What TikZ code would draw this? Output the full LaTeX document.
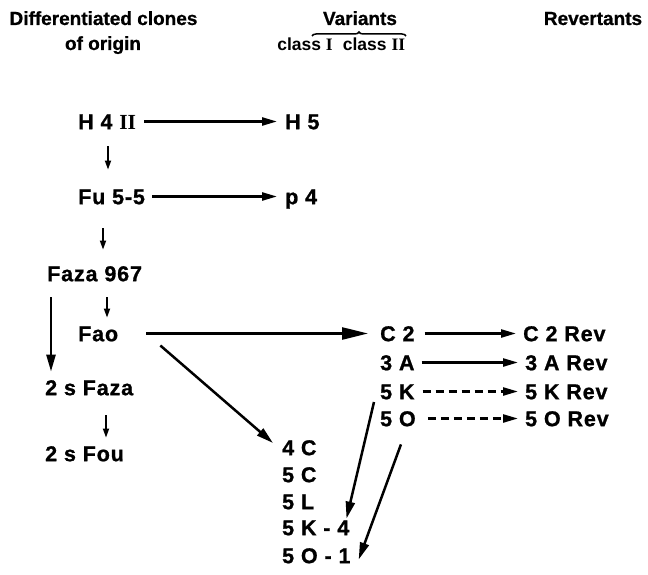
\documentclass[tikz,border=0pt]{standalone}
\usepackage{fontspec}
\setmainfont{Liberation Sans}
\newfontfamily\romfont{Liberation Serif}
\newcommand\RomN[1]{{\romfont\bfseries #1}}
\usetikzlibrary{arrows.meta,calc,decorations.pathreplacing}
\begin{document}
\begin{tikzpicture}[x=1pt,y=-1pt,
  lbl/.style={font=\fontsize{21.5}{24}\selectfont\bfseries\addfontfeatures{LetterSpace=4,FakeBold=1}, inner sep=0pt, text height=15.4pt, text depth=0pt, anchor=west},
  hdr/.style={font=\fontsize{19}{20}\selectfont\bfseries\addfontfeatures{FakeBold=0.8}, inner sep=0pt, anchor=base},
  arr/.style={line width=2.4pt, -{Triangle[length=15pt,width=8pt]}},
  darr/.style={arr, dash pattern=on 8pt off 5pt},
  smallarr/.style={line width=1.7pt, -{Triangle[length=9pt,width=6pt]}},
  bigarr/.style={line width=2.5pt, -{Triangle[length=17pt,width=9pt]}},
  hugearr/.style={line width=2.5pt, -{Triangle[length=26pt,width=12pt]}},
]
\useasboundingbox (0,0) rectangle (648,575);
% headers
\node[hdr] (hd1) at (103.5,25) {Differentiated clones};
\node[hdr] (hd2) at (103,50) {of origin};
\node[hdr] (hv) at (360,25) {Variants};
\node[hdr] (hr) at (593,25) {Revertants};
\node[hdr, font=\fontsize{17.5}{18}\selectfont\bfseries] (cla) at (305,51) {class \RomN{I}};
\node[hdr, font=\fontsize{17.5}{18}\selectfont\bfseries] (clb) at (374,51) {class \RomN{II}};
\draw[line width=1.5pt, decorate, decoration={brace, amplitude=4pt}] (312,36) -- (406,36);
% labels
\node[lbl] (h4) at (78,121.5) {H 4 \RomN{II}};
\node[lbl] (h5) at (285,121.5) {H 5};
\node[lbl] (fu) at (78,196.5) {Fu 5-5};
\node[lbl] (p4) at (285,196.5) {p 4};
\node[lbl] (faza) at (47,273.5) {Faza 967};
\node[lbl] (fao) at (78,333.5) {Fao};
\node[lbl] (sfaza) at (45,387.5) {2 s Faza};
\node[lbl] (sfou) at (45,453.5) {2 s Fou};
\node[lbl] (c2) at (380,333.5) {C 2};
\node[lbl] (a3) at (380,362.5) {3 A};
\node[lbl] (k5) at (380,391.5) {5 K};
\node[lbl] (o5) at (380,418.5) {5 O};
\node[lbl] (c2r) at (523,333.5) {C 2 Rev};
\node[lbl] (a3r) at (525,362.5) {3 A Rev};
\node[lbl] (k5r) at (525,391.5) {5 K Rev};
\node[lbl] (o5r) at (525,418.5) {5 O Rev};
\node[lbl] (c4) at (282,447.5) {4 C};
\node[lbl] (c5) at (282,474.5) {5 C};
\node[lbl] (l5) at (282,501.5) {5 L};
\node[lbl] (k54) at (282,527.5) {5 K - 4};
\node[lbl] (o51) at (282,555.5) {5 O - 1};
% horizontal arrows
\draw[arr, shorten <=8pt, shorten >=8pt] (h4.east) -- (h5.west);
\draw[arr, shorten <=7pt, shorten >=8pt] (fu.east) -- (p4.west);
\draw[arr, shorten <=10pt, shorten >=7pt] (c2.east) -- (c2r.west);
\draw[arr, shorten <=7pt, shorten >=7pt] (a3.east) -- (a3r.west);
\draw[darr, shorten <=8pt, shorten >=7pt] (k5.east) -- (k5r.west);
\draw[darr, shorten <=12pt, shorten >=7pt] (o5.east) -- (o5r.west);
% small vertical arrows
\draw[smallarr] ($(h4.south west)+(30,17)$) -- ($(fu.north west)+(30,-19)$);
\draw[smallarr] ($(fu.south west)+(25,24)$) -- ($(faza.north west)+(56,-16)$);
\draw[smallarr] ($(faza.south west)+(60,16)$) -- ($(fao.north west)+(29,-8)$);
\draw[smallarr] ($(sfaza.south west)+(61,20)$) -- ($(sfou.north west)+(61,-8)$);
\draw[bigarr] ($(faza.south west)+(4,16)$) -- ($(sfaza.north west)+(6,-8)$);
% Fao arrows
\draw[hugearr, shorten <=28pt, shorten >=12pt] (fao.east) -- (c2.west);
\draw[bigarr] ($(fao.east)+(42,12)$) -- ($(c4.west)+(-9,-4.5)$);
% downward slanted arrows
\draw[bigarr] ($(k5.west)+(-6,10.5)$) -- ($(k54.north east)+(-3,-1)$);
\draw[bigarr] ($(o5.south)+(3,18)$) -- ($(o51.east)+(8,4)$);
\end{tikzpicture}
\end{document}
